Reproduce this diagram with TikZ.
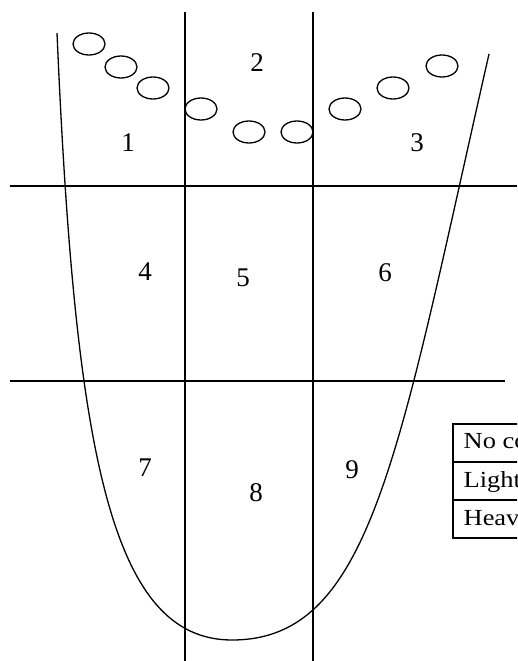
\documentclass[tikz,border=0pt]{standalone}
\usepackage{fontspec}
\setmainfont{Liberation Serif}
\usetikzlibrary{shapes.geometric}
\begin{document}
\begin{tikzpicture}[x=1pt,y=-1pt,line width=1.3pt,
  cell/.style={ellipse,draw,minimum width=32pt,minimum height=22pt,inner sep=0pt,line width=1.3pt},
  num/.style={font=\fontsize{27}{27}\selectfont,inner sep=0pt},
  tabtxt/.style={font=\fontsize{23}{23}\selectfont,anchor=base west,inner sep=0pt},
  grid/.style={line width=1.4pt}]
\useasboundingbox (0,0) rectangle (517,661);
\clip (0,0) rectangle (517,661);
% grid lines
\coordinate (v1t) at (185,12); \coordinate (v1b) at (185,661);
\coordinate (v2t) at (313,12); \coordinate (v2b) at (313,661);
\coordinate (h1l) at (10,186); \coordinate (h1r) at (517,186);
\coordinate (h2l) at (10,381); \coordinate (h2r) at (505,381);
\draw[grid] (v1t) -- (v1b);
\draw[grid] (v2t) -- (v2b);
\draw[grid] (h1l) -- (h1r);
\draw[grid] (h2l) -- (h2r);
% U curve
\coordinate (ctop) at (57,33);
\coordinate (cbot) at (232,640);
\coordinate (cend) at (489,54);
\draw (ctop) .. controls (75,450) and (110,640) .. (cbot)
             .. controls (372,640) and (398,454) .. (cend);
% ellipses
\node[cell] (e1) at (89,44) {};
\node[cell] (e2) at (121,67) {};
\node[cell] (e3) at (153,88) {};
\node[cell] (e4) at (201,109) {};
\node[cell] (e5) at (249,132) {};
\node[cell] (e6) at (297,132) {};
\node[cell] (e7) at (345,109) {};
\node[cell] (e8) at (393,88) {};
\node[cell] (e9) at (442,66) {};
% numbers
\node[num] (n1) at (128,143) {1};
\node[num] (n2) at (257,63) {2};
\node[num] (n3) at (417,143) {3};
\node[num] (n4) at (145,272) {4};
\node[num] (n5) at (243,278) {5};
\node[num] (n6) at (385,273) {6};
\node[num] (n7) at (145,468) {7};
\node[num] (n8) at (256,493) {8};
\node[num] (n9) at (352,470) {9};
% legend table
\draw[line width=1.6pt] (453,424) rectangle (540,538);
\draw[line width=1.3pt] (453,462) -- (540,462);
\draw[line width=1.3pt] (453,500) -- (540,500);
\node[tabtxt] (t1) at (463,448) {\scalebox{1.15}[1]{No co}};
\node[tabtxt] (t2) at (463,487) {\scalebox{1.15}[1]{Light}};
\node[tabtxt] (t3) at (463,525) {\scalebox{1.15}[1]{Heavy}};
\end{tikzpicture}
\end{document}
